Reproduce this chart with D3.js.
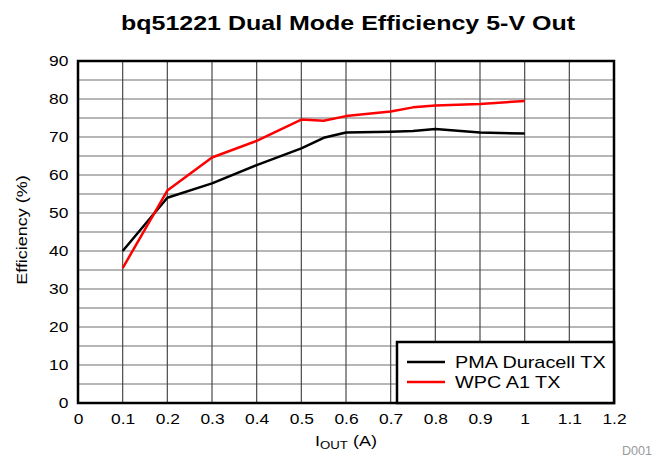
<!DOCTYPE html>
<html>
<head>
<meta charset="utf-8">
<script src="https://cdn.jsdelivr.net/npm/d3@7"></script>
<style>
  body { margin: 0; background: #fff; }
  svg { font-family: "Liberation Sans", Arial, sans-serif; }
</style>
</head>
<body>
<div id="chart"></div>
<script>
var width = 660;
var height = 457;
var margin = {top: 61, right: 46, bottom: 54, left: 78};
var stretch = 1.2; // the original type is set wider than Arial

// current (A) and efficiency (%)
var pmaCurrent = [0.1, 0.2, 0.3, 0.4, 0.5, 0.55, 0.6, 0.7, 0.75, 0.8, 0.9, 1.0];
var pmaEff     = [40, 54, 57.8, 62.6, 67, 69.8, 71.2, 71.4, 71.6, 72.1, 71.2, 70.9];
var wpcCurrent = [0.1, 0.2, 0.3, 0.4, 0.5, 0.55, 0.6, 0.7, 0.75, 0.8, 0.9, 1.0];
var wpcEff     = [35.5, 55.9, 64.6, 69, 74.6, 74.3, 75.5, 76.7, 77.8, 78.3, 78.7, 79.5];

var seriesNames = ["PMA Duracell TX", "WPC A1 TX"];
var seriesColors = ["#000000", "#ff0000"];

var xTicks = [0, 0.1, 0.2, 0.3, 0.4, 0.5, 0.6, 0.7, 0.8, 0.9, 1, 1.1, 1.2];
var yTicks = [0, 10, 20, 30, 40, 50, 60, 70, 80, 90];
var yGrid = d3.range(0, 91, 5);

var series = [
  {name: seriesNames[0], color: seriesColors[0], values: pmaCurrent.map(function(c, i) { return {x: c, y: pmaEff[i]}; })},
  {name: seriesNames[1], color: seriesColors[1], values: wpcCurrent.map(function(c, i) { return {x: c, y: wpcEff[i]}; })}
];

var svg = d3.select("#chart")
  .append("svg")
  .attr("width", width)
  .attr("height", height);

// text helper: places a label and stretches it along its length
function label(x, y, str, size, opts) {
  opts = opts || {};
  var g = svg.append("g")
    .attr("transform", "translate(" + x + "," + y + ")" + (opts.rotate ? " rotate(" + opts.rotate + ")" : "") + " scale(" + (opts.sx || stretch) + ",1)");
  return g.append("text")
    .attr("text-anchor", opts.anchor || "middle")
    .attr("font-size", size + "px")
    .attr("font-weight", opts.bold ? "bold" : null)
    .attr("fill", opts.fill || "#000")
    .text(str);
}

var xScale = d3.scaleLinear()
  .domain([0, 1.2])
  .range([margin.left, width - margin.right]);

var yScale = d3.scaleLinear()
  .domain([0, 90])
  .range([height - margin.bottom, margin.top]);

// grid
svg.append("g")
  .selectAll("line")
  .data(yGrid)
  .enter().append("line")
  .attr("x1", xScale(0))
  .attr("x2", xScale(1.2))
  .attr("y1", function(d) { return yScale(d); })
  .attr("y2", function(d) { return yScale(d); })
  .attr("stroke", "#6e6e6e")
  .attr("stroke-width", 1.2);

svg.append("g")
  .selectAll("line")
  .data(xTicks)
  .enter().append("line")
  .attr("x1", function(d) { return xScale(d); })
  .attr("x2", function(d) { return xScale(d); })
  .attr("y1", yScale(0))
  .attr("y2", yScale(90))
  .attr("stroke", "#4a4a4a")
  .attr("stroke-width", 1.2);

// axes (labels only, frame drawn separately)
var xAxis = svg.append("g")
  .attr("transform", "translate(0," + yScale(0) + ")")
  .call(d3.axisBottom(xScale).tickValues(xTicks).tickSize(0).tickPadding(11)
    .tickFormat(function(d) { return d3.format("~g")(d); }));
xAxis.select(".domain").remove();
xAxis.selectAll("text")
  .attr("font-size", "14.5px")
  .attr("fill", "#000")
  .attr("transform", "scale(" + stretch + ",1)")
  .style("font-family", "Liberation Sans, Arial, sans-serif");

var yAxis = svg.append("g")
  .attr("transform", "translate(" + xScale(0) + ",0)")
  .call(d3.axisLeft(yScale).tickValues(yTicks).tickSize(0).tickPadding(8));
yAxis.select(".domain").remove();
yAxis.selectAll("text")
  .attr("font-size", "14.5px")
  .attr("fill", "#000")
  .attr("transform", "scale(" + stretch + ",1)")
  .style("font-family", "Liberation Sans, Arial, sans-serif");

// frame
svg.append("rect")
  .attr("x", xScale(0))
  .attr("y", yScale(90))
  .attr("width", xScale(1.2) - xScale(0))
  .attr("height", yScale(0) - yScale(90))
  .attr("fill", "none")
  .attr("stroke", "#000")
  .attr("stroke-width", 2.5);

// lines
var line = d3.line()
  .x(function(d) { return xScale(d.x); })
  .y(function(d) { return yScale(d.y); });

svg.append("g")
  .selectAll("path")
  .data(series)
  .enter().append("path")
  .attr("d", function(d) { return line(d.values); })
  .attr("fill", "none")
  .attr("stroke", function(d) { return d.color; })
  .attr("stroke-width", 2.5)
  .attr("stroke-linejoin", "round");

// legend
var legendX = 397, legendY = 342;
svg.append("rect")
  .attr("x", legendX)
  .attr("y", legendY)
  .attr("width", xScale(1.2) - legendX)
  .attr("height", yScale(0) - legendY)
  .attr("fill", "#fff")
  .attr("stroke", "#000")
  .attr("stroke-width", 2.5);

series.forEach(function(s, i) {
  var ly = legendY + 20 + i * 20;
  svg.append("line")
    .attr("x1", legendX + 10)
    .attr("x2", legendX + 48)
    .attr("y1", ly)
    .attr("y2", ly)
    .attr("stroke", s.color)
    .attr("stroke-width", 2.5);
  label(legendX + 58, ly + 6, s.name, 16, {anchor: "start", sx: 1.24});
});

// title
label(348, 30, "bq51221 Dual Mode Efficiency 5-V Out", 21, {bold: true, sx: 1.19});

// axis titles
label(27, (yScale(0) + yScale(90)) / 2 - 2, "Efficiency (%)", 15, {rotate: -90});

var xt = label((xScale(0) + xScale(1.2)) / 2, 446, "", 15);
xt.append("tspan").text("I");
xt.append("tspan").attr("font-size", "11px").attr("dy", "3").text("OUT");
xt.append("tspan").attr("dy", "-3").text(" (A)");

label(652, 455, "D001", 12, {anchor: "end", sx: 1.05, fill: "#9a9a9a"});
</script>
</body>
</html>
